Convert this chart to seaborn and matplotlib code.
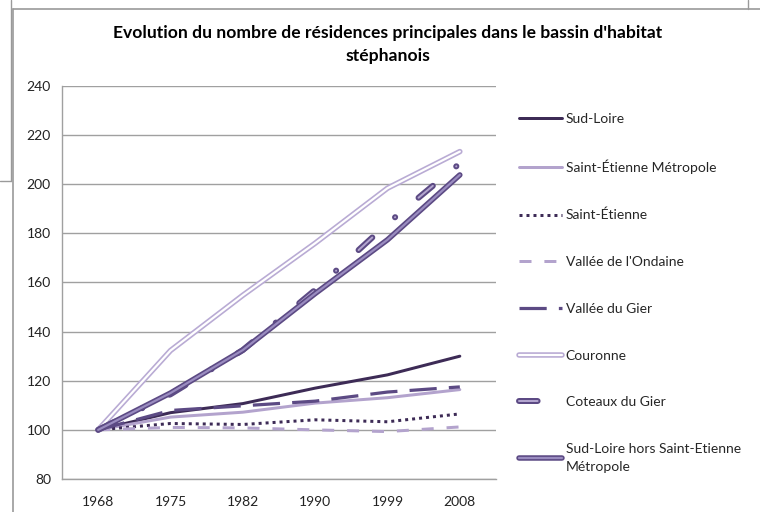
import matplotlib
matplotlib.use("Agg")
import matplotlib.pyplot as plt
import matplotlib.patheffects as pe
from matplotlib.lines import Line2D
import seaborn as sns
import pandas as pd

years = ["1968", "1975", "1982", "1990", "1999", "2008"]

sud_loire = [100, 107, 110.7, 117, 122.4, 130]
st_etienne_metropole = [100, 105.2, 107.2, 110.9, 113.1, 116.4]
st_etienne = [100, 102.6, 102.2, 104.1, 103.3, 106.5]
vallee_ondaine = [100, 101, 100.8, 100, 99.3, 101.2]
vallee_gier = [100, 107.9, 109.8, 111.7, 115.4, 117.5]
couronne = [100, 132.3, 154.8, 176, 198.4, 213.3]
coteaux_gier = [100, 114.5, 132.5, 157, 184, 208.5]
sud_loire_hors_sem = [100, 115, 132.5, 155.5, 177.4, 203.8]

y_ticks = [80, 100, 120, 140, 160, 180, 200, 220, 240]

sns.set_theme(style="white")
plt.rcParams["font.family"] = ["Lato", "DejaVu Sans"]

fig = plt.figure(figsize=(7.6, 5.12), dpi=100)
ax = fig.add_axes([62 / 760, 1 - 479 / 512, (496 - 62) / 760, (479 - 86) / 512])

px = 0.72  # points per pixel at 100 dpi

series = [
    ("Sud-Loire", sud_loire, dict(color="#3d2b56", lw=3 * px, dashes=None)),
    ("Saint-Étienne Métropole", st_etienne_metropole, dict(color="#b3a3cd", lw=3 * px, dashes=None)),
    ("Saint-Étienne", st_etienne, dict(color="#3d2b56", lw=3 * px, dashes=(1, 1.33))),
    ("Vallée de l'Ondaine", vallee_ondaine, dict(color="#b3a3cd", lw=3 * px, dashes=(4, 4.3))),
    ("Vallée du Gier", vallee_gier, dict(color="#5c4a84", lw=3.2 * px, dashes=(8.5, 3.8))),
    ("Couronne", couronne, dict(color="#ffffff", lw=2.2 * px, dashes=None,
                                outer="#b9abd4", outer_lw=5.5 * px)),
    ("Coteaux du Gier", coteaux_gier, dict(color="#b3a5cf", lw=2.0 * px, dashes=(9.3, 15.2, 0.1, 15.2),
                                           outer="#5c4a84", outer_lw=6 * px)),
    ("Sud-Loire hors Saint-Etienne\nMétropole", sud_loire_hors_sem,
     dict(color="#9a8cc0", lw=2.2 * px, dashes=None, outer="#5c4a84", outer_lw=5.5 * px)),
]

handles = []
for name, vals, st in series:
    df = pd.DataFrame({"year": years, "value": vals})
    n_before = len(ax.lines)
    sns.lineplot(data=df, x="year", y="value", ax=ax, color=st["color"],
                 linewidth=st["lw"], legend=False, sort=False)
    line = ax.lines[n_before]
    if st["dashes"] is not None:
        line.set_dashes(st["dashes"])
    line.set_dash_capstyle("round" if "outer" in st else "butt")
    line.set_solid_capstyle("round")
    line.set_solid_joinstyle("round")
    if "outer" in st:
        line.set_path_effects([pe.Stroke(linewidth=st["outer_lw"], foreground=st["outer"]), pe.Normal()])
    h = Line2D([], [], color=st["color"], linewidth=st["lw"])
    h.update_from(line)
    h.set_label(name)
    handles.append(h)

ax.set_xlim(-0.5, len(years) - 0.5)
ax.set_ylim(80, 240)
ax.set_yticks(y_ticks)
ax.set_xticks(range(len(years)))
ax.set_xticklabels(years)
ax.set_xlabel("")
ax.set_ylabel("")
ax.grid(axis="y", color="#a0a0a0", linewidth=1.0)
ax.grid(axis="x", visible=False)
for s in ["top", "right"]:
    ax.spines[s].set_visible(False)
for s in ["left", "bottom"]:
    ax.spines[s].set_color("#a0a0a0")
    ax.spines[s].set_linewidth(1.0)
ax.tick_params(axis="both", length=0, labelsize=10, colors="#222222", pad=8)
ax.tick_params(axis="x", pad=12)

fig.suptitle("Evolution du nombre de résidences principales dans le bassin d'habitat\nstéphanois",
             x=388 / 760, y=1 - 25 / 512, fontsize=12.6, fontweight="bold", linespacing=1.55,
             va="top", color="#000000")

leg = fig.legend(handles=handles, loc="upper left", bbox_to_anchor=(519 / 760, 1 - 113 / 512),
                 frameon=False, fontsize=10, handlelength=3.1, handletextpad=0.25,
                 labelspacing=2.5, borderaxespad=0, borderpad=0)
leg.get_texts()[-1].set_linespacing(1.55)

# spreadsheet / chart frame lines
frame_col = "#9a9a9a"
fig.add_artist(Line2D([13 / 760, 13 / 760], [0, 1 - 9 / 512], color=frame_col, lw=1.2, transform=fig.transFigure))
fig.add_artist(Line2D([13 / 760, 1], [1 - 9 / 512, 1 - 9 / 512], color=frame_col, lw=1.2, transform=fig.transFigure))
fig.add_artist(Line2D([11 / 760, 11 / 760], [1, 1 - 181 / 512], color=frame_col, lw=1.0, transform=fig.transFigure))
fig.add_artist(Line2D([0, 11 / 760], [1 - 181 / 512, 1 - 181 / 512], color=frame_col, lw=1.0, transform=fig.transFigure))
fig.add_artist(Line2D([748 / 760, 748 / 760], [1, 1 - 9 / 512], color=frame_col, lw=1.0, transform=fig.transFigure))

fig.savefig("out.png", dpi=100)
